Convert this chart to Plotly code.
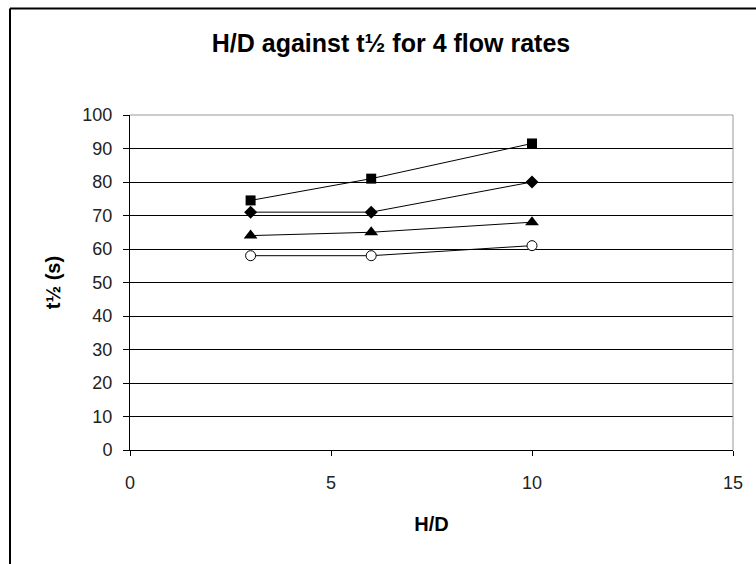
import plotly.graph_objects as go

hd = [3, 6, 10]
series_names = ["Flow rate 1", "Flow rate 2", "Flow rate 3", "Flow rate 4"]
t_half_square = [74.5, 81, 91.5]
t_half_diamond = [71, 71, 80]
t_half_triangle = [64, 65, 68]
t_half_circle = [58, 58, 61]

x_ticks = [0, 5, 10, 15]
y_ticks = [0, 10, 20, 30, 40, 50, 60, 70, 80, 90, 100]

FONT = "Liberation Sans, Arial, sans-serif"

fig = go.Figure()
styles = [
    (t_half_square, dict(symbol="square", size=10, color="black")),
    (t_half_diamond, dict(symbol="diamond", size=10, color="black")),
    (t_half_triangle, dict(symbol="triangle-up", size=12, color="black")),
    (t_half_circle, dict(symbol="circle", size=10, color="white", line=dict(color="black", width=1))),
]
for name, (vals, mk) in zip(series_names, styles):
    fig.add_trace(go.Scatter(
        x=hd, y=vals, name=name, mode="lines+markers",
        line=dict(color="black", width=1), marker=mk, showlegend=False,
    ))

fig.update_layout(
    width=756, height=564,
    margin=dict(l=130, r=23, t=115, b=114),
    paper_bgcolor="white", plot_bgcolor="white",
    font=dict(family=FONT, color="#222", size=18),
    title=dict(text="<b>H/D against t½ for 4 flow rates</b>", x=391 / 756, xanchor="center",
               y=1 - 43 / 564, yanchor="middle", font=dict(size=25, color="black", family=FONT)),
    xaxis=dict(range=[0, 15], tickvals=x_ticks, showgrid=False, zeroline=False,
               showline=True, linecolor="black", linewidth=1,
               ticks="outside", ticklen=5, tickcolor="black", ticklabelstandoff=11,
               title=dict(text="<b>H/D</b>", font=dict(size=20, color="black"), standoff=25)),
    yaxis=dict(range=[0, 100], tickvals=y_ticks, showgrid=True, gridcolor="black", gridwidth=1,
               zeroline=False, showline=True, linecolor="black", linewidth=1,
               ticks="outside", ticklen=6, tickcolor="black", ticklabelstandoff=7,
               title=dict(text="<b>t½ (s)</b>", font=dict(size=20, color="black"), standoff=16)),
    shapes=[
        dict(type="line", xref="paper", yref="paper", x0=0, x1=1, y0=1, y1=1,
             line=dict(color="#999", width=1), layer="above"),
        dict(type="line", xref="paper", yref="paper", x0=1, x1=1, y0=0, y1=1,
             line=dict(color="#999", width=1), layer="above"),
        dict(type="line", xref="paper", yref="paper", x0=-0.199, x1=-0.199, y0=-0.5, y1=1.318,
             line=dict(color="black", width=2), layer="above"),
        dict(type="line", xref="paper", yref="paper", x0=-0.199, x1=1.2, y0=1.318, y1=1.318,
             line=dict(color="black", width=2), layer="above"),
    ],
)

fig.write_html("out.html")
